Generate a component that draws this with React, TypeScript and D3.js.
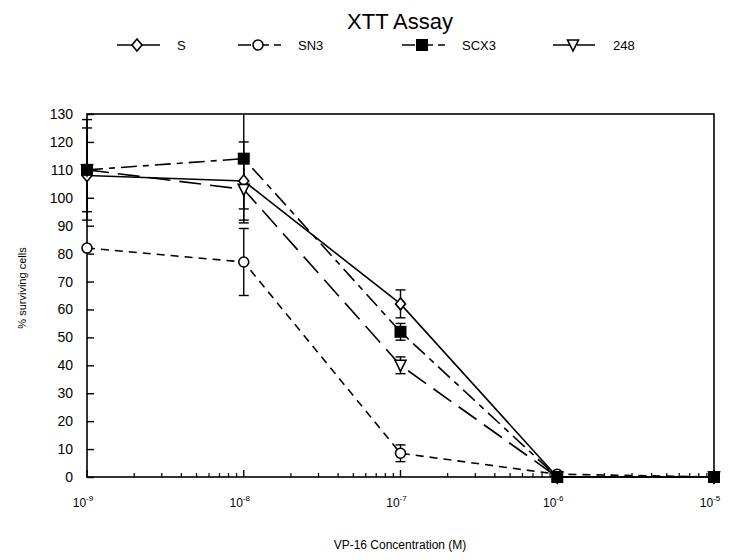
import React, { useEffect, useRef } from 'react';
import * as d3 from 'd3';

// VP-16 concentration (M)
const concentrations = [1e-9, 1e-8, 1e-7, 1e-6, 1e-5];
const xTickExponents = [-9, -8, -7, -6, -5];
const yTickValues = [0, 10, 20, 30, 40, 50, 60, 70, 80, 90, 100, 110, 120, 130];

const seriesNames = ['S', 'SN3', 'SCX3', '248'];
const sValues = [108, 106, 62, 0, 0];
const sErrors = [0, 14, 5, 0, 0];
const sn3Values = [82, 77, 8.5, 1, 0];
const sn3Errors = [0, 12, 3, 0, 0];
const scx3Values = [110, 114, 52, 0, 0];
const scx3Errors = [18, 18, 3, 0, 0];
const t248Values = [110, 103, 40, 0, 0];
const t248Errors = [15, 12, 3, 0, 0];

const App = () => {
  const svgRef = useRef<SVGSVGElement>(null);

  useEffect(() => {
    const width = 730;
    const height = 560;
    const margin = { top: 114, right: 16, bottom: 83, left: 87 };
    const svg = d3.select(svgRef.current);
    svg.selectAll('*').remove();
    svg.attr('width', width).attr('height', height);

    const font = 'Liberation Sans, Arial, sans-serif';
    const x = d3.scaleLog().domain([1e-9, 1e-5]).range([margin.left, width - margin.right]);
    const y = d3.scaleLinear().domain([0, 130]).range([height - margin.bottom, margin.top]);

    const series = [
      { name: seriesNames[0], values: sValues, errors: sErrors, dash: null, marker: 'diamond' },
      { name: seriesNames[1], values: sn3Values, errors: sn3Errors, dash: '8,6', marker: 'circle' },
      { name: seriesNames[3], values: t248Values, errors: t248Errors, dash: '22,9', marker: 'triangle' },
      { name: seriesNames[2], values: scx3Values, errors: scx3Errors, dash: '16,6,6,6', marker: 'square' },
    ];

    svg.append('defs').append('clipPath').attr('id', 'plot-clip')
      .append('rect')
      .attr('x', margin.left - 10).attr('y', margin.top)
      .attr('width', width - margin.left - margin.right + 20)
      .attr('height', height - margin.top - margin.bottom + 10);

    // title
    svg.append('text')
      .attr('x', 400).attr('y', 29)
      .attr('text-anchor', 'middle')
      .style('font-family', font).style('font-size', '22px')
      .text('XTT Assay');

    const drawMarker = (g, type, cx, cy) => {
      if (type === 'circle') {
        g.append('circle').attr('cx', cx).attr('cy', cy).attr('r', 5)
          .attr('fill', '#fff').attr('stroke', '#000').attr('stroke-width', 1.6);
      } else if (type === 'square') {
        g.append('rect').attr('x', cx - 6).attr('y', cy - 6).attr('width', 12).attr('height', 12)
          .attr('fill', '#000');
      } else if (type === 'diamond') {
        g.append('path')
          .attr('d', `M${cx},${cy - 6}L${cx + 5},${cy}L${cx},${cy + 6}L${cx - 5},${cy}Z`)
          .attr('fill', '#fff').attr('stroke', '#000').attr('stroke-width', 1.6);
      } else {
        g.append('path')
          .attr('d', `M${cx - 5.5},${cy - 5}L${cx + 5.5},${cy - 5}L${cx},${cy + 6}Z`)
          .attr('fill', '#fff').attr('stroke', '#000').attr('stroke-width', 1.6);
      }
    };

    // legend
    const legendX = [117, 238, 402, 553];
    const legendY = 45;
    const legendOrder = [0, 1, 3, 2];
    legendOrder.forEach((si, i) => {
      const s = series[si];
      const lg = svg.append('g');
      lg.append('line')
        .attr('x1', legendX[i]).attr('x2', legendX[i] + 43)
        .attr('y1', legendY).attr('y2', legendY)
        .attr('stroke', '#000').attr('stroke-width', 1.6)
        .attr('stroke-dasharray', s.dash === '22,9' ? '18,6' : s.dash ? '13,5' : null);
      drawMarker(lg, s.marker, legendX[i] + 20, legendY);
      lg.append('text')
        .attr('x', legendX[i] + 60).attr('y', legendY + 5)
        .style('font-family', font).style('font-size', '13px')
        .text(s.name);
    });

    // frame
    svg.append('rect')
      .attr('x', margin.left).attr('y', margin.top)
      .attr('width', width - margin.left - margin.right)
      .attr('height', height - margin.top - margin.bottom)
      .attr('fill', 'none').attr('stroke', '#000').attr('stroke-width', 1.6);

    // y axis
    const yAxis = d3.axisRight(y).tickValues(yTickValues).tickSize(7).tickFormat(() => '');
    const yg = svg.append('g').attr('transform', `translate(${margin.left},0)`).call(yAxis);
    yg.select('.domain').remove();
    yg.selectAll('line').attr('stroke-width', 1.4);
    svg.append('g').selectAll('text').data(yTickValues).enter().append('text')
      .attr('x', 73).attr('y', d => y(d) + 5)
      .attr('text-anchor', 'end')
      .style('font-family', font).style('font-size', '14px')
      .text(d => d);

    // x axis ticks (log, pointing inward)
    const minor = [];
    for (let e = -9; e < -5; e++) {
      for (let m = 2; m <= 9; m++) minor.push(m * Math.pow(10, e));
    }
    const xg = svg.append('g');
    xg.selectAll('.minor').data(minor).enter().append('line')
      .attr('x1', d => x(d)).attr('x2', d => x(d))
      .attr('y1', y(0)).attr('y2', y(0) - 4)
      .attr('stroke', '#000').attr('stroke-width', 1.2);
    xg.selectAll('.major').data(concentrations).enter().append('line')
      .attr('x1', d => x(d)).attr('x2', d => x(d))
      .attr('y1', y(0)).attr('y2', y(0) - 7)
      .attr('stroke', '#000').attr('stroke-width', 1.4);
    const xl = xg.selectAll('.xlab').data(xTickExponents).enter().append('text')
      .attr('x', d => x(Math.pow(10, d)) - 4).attr('y', 507)
      .attr('text-anchor', 'middle')
      .style('font-family', font).style('font-size', '12px');
    xl.append('tspan').text('10');
    xl.append('tspan').attr('dy', -6).style('font-size', '8px').text(d => String(d));

    // axis titles
    svg.append('text')
      .attr('x', 400).attr('y', 549)
      .attr('text-anchor', 'middle')
      .style('font-family', font).style('font-size', '12px')
      .text('VP-16 Concentration (M)');
    svg.append('text')
      .attr('transform', 'translate(26,288) rotate(-90)')
      .attr('text-anchor', 'middle')
      .style('font-family', font).style('font-size', '11px')
      .text('% surviving cells');

    // data
    const plot = svg.append('g').attr('clip-path', 'url(#plot-clip)');
    const line = d3.line<number>()
      .x((d, i) => x(concentrations[i]))
      .y(d => y(d));

    series.forEach(s => {
      plot.append('path')
        .datum(s.values)
        .attr('d', line)
        .attr('fill', 'none').attr('stroke', '#000').attr('stroke-width', 1.6)
        .attr('stroke-dasharray', s.dash);
    });

    series.forEach(s => {
      s.values.forEach((v, i) => {
        const err = s.errors[i];
        if (!err) return;
        const cx = x(concentrations[i]);
        plot.append('line')
          .attr('x1', cx).attr('x2', cx)
          .attr('y1', y(v + err)).attr('y2', y(v - err))
          .attr('stroke', '#000').attr('stroke-width', 1.4);
        [v + err, v - err].forEach(e => {
          plot.append('line')
            .attr('x1', cx - 5).attr('x2', cx + 5)
            .attr('y1', y(e)).attr('y2', y(e))
            .attr('stroke', '#000').attr('stroke-width', 1.4);
        });
      });
    });

    series.forEach(s => {
      s.values.forEach((v, i) => {
        drawMarker(plot, s.marker, x(concentrations[i]), y(v));
      });
    });
  }, []);

  return (
    <svg ref={svgRef} style={{ position: 'absolute', left: 0, top: 0, background: '#fff' }}></svg>
  );
};

export default App;
